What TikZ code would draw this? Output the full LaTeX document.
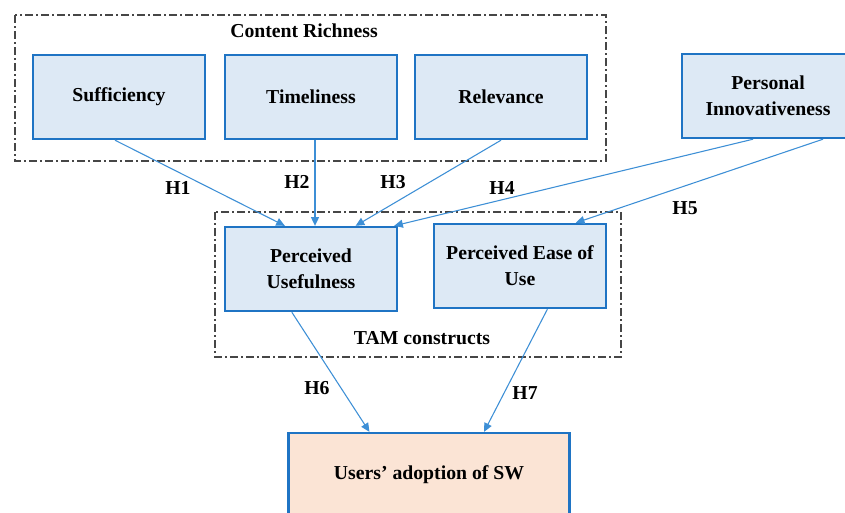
\documentclass[tikz,border=0pt]{standalone}
\usepackage{fontspec}
\setmainfont{Liberation Serif}
\usetikzlibrary{arrows.meta}
\usetikzlibrary{calc}
\definecolor{boxblue}{RGB}{31,116,196}
\definecolor{boxfill}{RGB}{221,233,245}
\definecolor{adoptfill}{RGB}{251,228,213}
\definecolor{hypblue}{RGB}{61,143,214}
\definecolor{grpgray}{RGB}{70,70,70}
\tikzset{
  cbox/.style={draw=boxblue, fill=boxfill, line width=1.8pt, minimum width=129pt, minimum height=63pt, align=center, font=\fontsize{14.8}{19.5}\selectfont\bfseries, inner sep=2pt},
  grp/.style={draw=grpgray, line width=0.8pt, dash pattern=on 6pt off 2.5pt on 1pt off 2.5pt},
  hyp/.style={draw=hypblue, line width=0.8pt, -{Triangle[length=6.5pt,width=6pt]}},
  hlab/.style={font=\fontsize{14.8}{17}\selectfont\bfseries, inner sep=0.75pt}
}
\begin{document}
\begin{tikzpicture}[x=0.75pt,y=0.75pt,yscale=-1,xscale=1]
\clip (0,0) rectangle (845,512);
\fill[white] (0,0) rectangle (845,512);

%group frames
\draw [grp] (15,15) rectangle (606,161);
\draw [grp] (215,212) rectangle (621,357);
\node [hlab] (crlab) at (304,31) {Content Richness};
\node [hlab] (tamlab) at (422,338) {TAM constructs};

%constructs
\node [cbox] (suff) at (119,97) {Sufficiency};
\node [cbox] (time) at (311,97) {Timeliness};
\node [cbox] (rel) at (501,97) {Relevance};
\node [cbox] (pi) at (768,96) {Personal\\Innovativeness};
\node [cbox] (pu) at (311,269) {Perceived\\Usefulness};
\node [cbox] (peou) at (520,266) {Perceived Ease of\\Use};
\node [cbox, fill=adoptfill, minimum width=211pt] (adopt) at (429,475) {Users’ adoption of SW};

%hypotheses
\coordinate (t2) at ($(time.south)+(4,0)$);
\draw [hyp] ($(suff.south)+(-4,0)$) -- ($(pu.north west)!0.35!(pu.north east)$);
\draw [hyp] (t2) -- (t2 |- pu.north);
\draw [hyp] (rel.south) -- ($(pu.north west)!0.756!(pu.north east)$);
\draw [hyp] ($(pi.south)+(-15,0)$) -- ($(pu.north east)+(-4,0)$);
\draw [hyp] ($(pi.south)+(55,0)$) -- ($(peou.north west)!0.82!(peou.north east)$);
\draw [hyp] ($(pu.south west)!0.39!(pu.south east)$) -- ($(adopt.north west)!0.29!(adopt.north east)$);
\draw [hyp] ($(peou.south west)!0.657!(peou.south east)$) -- ($(adopt.north west)!0.694!(adopt.north east)$);

% Text Node
\node [hlab] (h1) at (178,188) {H1};
\node [hlab] (h2) at (297,182) {H2};
\node [hlab] (h3) at (393,182) {H3};
\node [hlab] (h4) at (502,188) {H4};
\node [hlab] (h5) at (685,208) {H5};
\node [hlab] (h6) at (317,388) {H6};
\node [hlab] (h7) at (525,393) {H7};

\end{tikzpicture}
\end{document}
